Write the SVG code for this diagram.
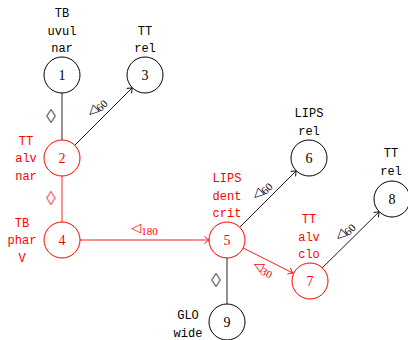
<svg xmlns="http://www.w3.org/2000/svg" width="408" height="340" viewBox="0 0 408 340">
<style>
.bg{fill:#fff}
.nb circle{fill:#fff;stroke:#000;stroke-width:1}
.nr circle{fill:#fff;stroke:#f00;stroke-width:1}
.num{font-family:"Liberation Serif",serif;font-size:14px;text-anchor:middle}
.lab{font-family:"Liberation Mono","DejaVu Sans Mono",monospace;font-size:12px;text-anchor:middle}
.nb text{fill:#000}
.nr text{fill:#f00}
.ek{stroke:#000;stroke-width:0.9;fill:none}
.er{stroke:#f00;stroke-width:0.9;fill:none}
.eg{stroke:#666;stroke-width:1.4;fill:none}
.elr{stroke:#f66;stroke-width:1.4;fill:none}
.tri{font-family:"DejaVu Sans",sans-serif;font-size:13px}
.sub{font-family:"Liberation Serif",serif;font-size:11px}
.loz{font-family:"Liberation Serif","DejaVu Sans",serif;font-size:20px;text-anchor:middle}
</style>
<defs>
<marker id="ak" markerUnits="userSpaceOnUse" markerWidth="10" markerHeight="10" refX="0" refY="0" viewBox="-6 -5 8 10" orient="auto">
<path d="M-4.5,-3.5 Q-1.5,-0.8 0,0 Q-1.5,0.8 -4.5,3.5" fill="none" stroke="#000" stroke-width="0.9"/>
</marker>
<marker id="ar" markerUnits="userSpaceOnUse" markerWidth="10" markerHeight="10" refX="0" refY="0" viewBox="-6 -5 8 10" orient="auto">
<path d="M-4.5,-3.5 Q-1.5,-0.8 0,0 Q-1.5,0.8 -4.5,3.5" fill="none" stroke="#f00" stroke-width="0.9"/>
</marker>
</defs>
<rect class="bg" x="0" y="0" width="408" height="340"/>
<g id="connectors">
<line class="eg" x1="62" y1="93" x2="62" y2="140"/>
<text class="loz" x="51" y="123" fill="#666">◊</text>
<line class="elr" x1="62" y1="176" x2="62" y2="222"/>
<text class="loz" x="51" y="205" fill="#f66">◊</text>
<line class="eg" x1="227" y1="258" x2="227" y2="304"/>
<text class="loz" x="216" y="287" fill="#666">◊</text>
<line class="ek" x1="74.7" y1="145.3" x2="132.3" y2="87.7" marker-end="url(#ak)"/>
<text transform="translate(97,108) rotate(-45)" text-anchor="middle" y="3" fill="#000"><tspan class="tri">◁</tspan><tspan class="sub" dy="2.5">60</tspan></text>
<line class="er" x1="80" y1="240" x2="209" y2="240" marker-end="url(#ar)"/>
<text x="144.5" y="232" text-anchor="middle" fill="#f00"><tspan class="tri">◁</tspan><tspan class="sub" dy="2.5">180</tspan></text>
<line class="ek" x1="239.7" y1="227.3" x2="296.3" y2="170.7" marker-end="url(#ak)"/>
<text transform="translate(262,191) rotate(-45)" text-anchor="middle" y="3" fill="#000"><tspan class="tri">◁</tspan><tspan class="sub" dy="2.5">60</tspan></text>
<line class="er" x1="243.1" y1="248" x2="292.9" y2="273" marker-end="url(#ar)"/>
<text transform="translate(263,269) rotate(26.6)" text-anchor="middle" y="3" fill="#f00"><tspan class="tri">◁</tspan><tspan class="sub" dy="2.5">30</tspan></text>
<line class="ek" x1="321.8" y1="268.3" x2="379.2" y2="211.7" marker-end="url(#ak)"/>
<text transform="translate(345,232) rotate(-45)" text-anchor="middle" y="3" fill="#000"><tspan class="tri">◁</tspan><tspan class="sub" dy="2.5">60</tspan></text>
</g>
<g id="node1" class="nb"><circle cx="62" cy="75" r="18"/><text class="num" x="62" y="80">1</text>
<text class="lab" x="62" y="17">TB</text><text class="lab" x="62" y="34.5">uvul</text><text class="lab" x="62" y="52">nar</text></g>
<g id="node3" class="nb"><circle cx="145" cy="75" r="18"/><text class="num" x="145" y="80">3</text>
<text class="lab" x="145" y="35">TT</text><text class="lab" x="145" y="52">rel</text></g>
<g id="node2" class="nr"><circle cx="62" cy="158" r="18"/><text class="num" x="62" y="163">2</text>
<text class="lab" x="26" y="144.5">TT</text><text class="lab" x="26" y="162">alv</text><text class="lab" x="26" y="179.5">nar</text></g>
<g id="node4" class="nr"><circle cx="62" cy="240" r="18"/><text class="num" x="62" y="245">4</text>
<text class="lab" x="22" y="226.5">TB</text><text class="lab" x="22" y="244">phar</text><text class="lab" x="22" y="261.5">V</text></g>
<g id="node5" class="nr"><circle cx="227" cy="240" r="18"/><text class="num" x="227" y="245">5</text>
<text class="lab" x="227" y="182">LIPS</text><text class="lab" x="227" y="199.5">dent</text><text class="lab" x="227" y="217">crit</text></g>
<g id="node6" class="nb"><circle cx="309" cy="158" r="18"/><text class="num" x="309" y="163">6</text>
<text class="lab" x="309" y="117">LIPS</text><text class="lab" x="309" y="134.5">rel</text></g>
<g id="node7" class="nr"><circle cx="310" cy="281" r="18"/><text class="num" x="310" y="286">7</text>
<text class="lab" x="309" y="223">TT</text><text class="lab" x="309" y="240.5">alv</text><text class="lab" x="309" y="258">clo</text></g>
<g id="node8" class="nb"><circle cx="392" cy="199" r="18"/><text class="num" x="392" y="204">8</text>
<text class="lab" x="391" y="157">TT</text><text class="lab" x="391" y="175">rel</text></g>
<g id="node9" class="nb"><circle cx="227" cy="322" r="18"/><text class="num" x="227" y="327">9</text>
<text class="lab" x="188" y="319">GLO</text><text class="lab" x="188" y="337">wide</text></g>
</svg>
